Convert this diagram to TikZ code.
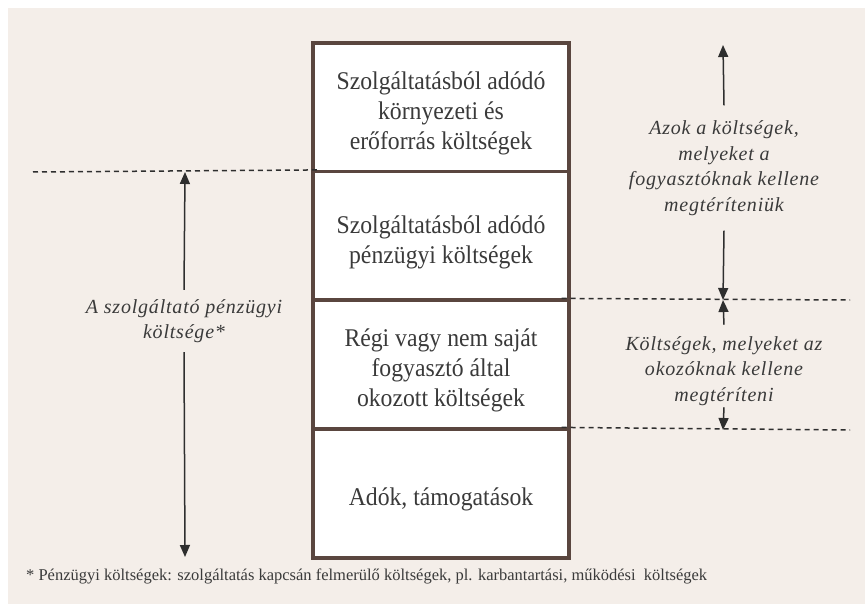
\documentclass[tikz,border=0pt]{standalone}
\usepackage{fontspec}
\setmainfont{Liberation Serif}
\newfontfamily\spacedserif[LetterSpace=4]{Liberation Serif}
\newfontfamily\boxserif[FakeStretch=0.93]{Liberation Serif}
\usetikzlibrary{arrows.meta}

\definecolor{pagefill}{HTML}{F4EEE9}
\definecolor{boxline}{HTML}{5A463F}
\definecolor{ink}{HTML}{3A3A3A}
\definecolor{arrowink}{HTML}{2E2E2E}

\begin{document}
\begin{tikzpicture}[x=1pt,y=-1pt,
  boxtext/.style={text=ink, align=center, inner sep=0pt, yshift=-6pt,
    font=\boxserif\fontsize{25.5}{30}\selectfont},
  costbox/.style={draw=boxline, line width=3.2pt, fill=white,
    minimum width=256pt, minimum height=129pt, inner sep=0pt,
    label={[boxtext]center:{#1}}},
  sidelabel/.style={text=ink, align=center, inner xsep=2pt,
    font=\spacedserif\fontsize{20}{25.5}\selectfont\itshape},
  arr/.style={draw=arrowink, line width=1.5pt,
    -{Triangle[width=10pt,length=12pt]}},
  level/.style={draw=arrowink, line width=1.5pt, dash pattern=on 5pt off 4pt}
]
\useasboundingbox (0,0) rectangle (865,604);
\fill[white] (0,0) rectangle (865,604);
\fill[pagefill] (8,8) rectangle (865,604);

% stacked cost components
\node[costbox={Szolgáltatásból adódó\\környezeti és\\erőforrás költségek}] (env) at (441,107.5) {};
\node[costbox={Szolgáltatásból adódó\\pénzügyi költségek}] (fin) at (441,236) {};
\node[costbox={Régi vagy nem saját\\fogyasztó által\\okozott költségek}] (old) at (441,364.5) {};
\node[costbox={Adók, támogatások}] (tax) at (441,493.5) {};

% dashed level lines
\coordinate (lvlLeft) at (33,172);
\coordinate (lvlMidEnd) at (850,300);
\coordinate (lvlLowEnd) at (850,430);
\draw[level] (lvlLeft) -- ([xshift=9pt]fin.north west);
\draw[level] ([xshift=-9pt]old.north east) -- (lvlMidEnd);
\draw[level] ([xshift=-9pt]tax.north east) -- (lvlLowEnd);

% left span: operator's financial cost
\coordinate (finTop) at (185,172);
\coordinate (finBot) at (185,557);
\node[sidelabel, inner ysep=9pt] (finlbl) at (184,321) {A szolgáltató pénzügyi\\költsége*};
\draw[arr] (finlbl.north) -- (finTop);
\draw[arr] (finlbl.south) -- (finBot);

% right spans
\coordinate (consTop) at (723,45);
\coordinate (lvlMid) at (723,300);
\coordinate (lvlLow) at (723,430);
\node[sidelabel, inner ysep=15pt] (conslbl) at (724,168) {Azok a költségek,\\melyeket a\\fogyasztóknak kellene\\megtéríteniük};
\draw[arr] (conslbl.north) -- (consTop);
\draw[arr] (conslbl.south) -- (lvlMid);

\node[sidelabel, inner ysep=6pt] (causlbl) at (724,371) {Költségek, melyeket az\\okozóknak kellene\\megtéríteni};
\draw[arr] ([yshift=5.5pt]causlbl.north) -- (lvlMid);
\draw[arr] ([yshift=4.5pt]causlbl.south) -- (lvlLow);

% footnote
\node[anchor=west, text=ink, inner sep=0pt, font=\fontsize{16.5}{19}\selectfont] (note) at (26,576)
  {* Pénzügyi költségek: szolgáltatás kapcsán felmerülő költségek, pl. karbantartási, működési \ költségek};
\end{tikzpicture}
\end{document}
